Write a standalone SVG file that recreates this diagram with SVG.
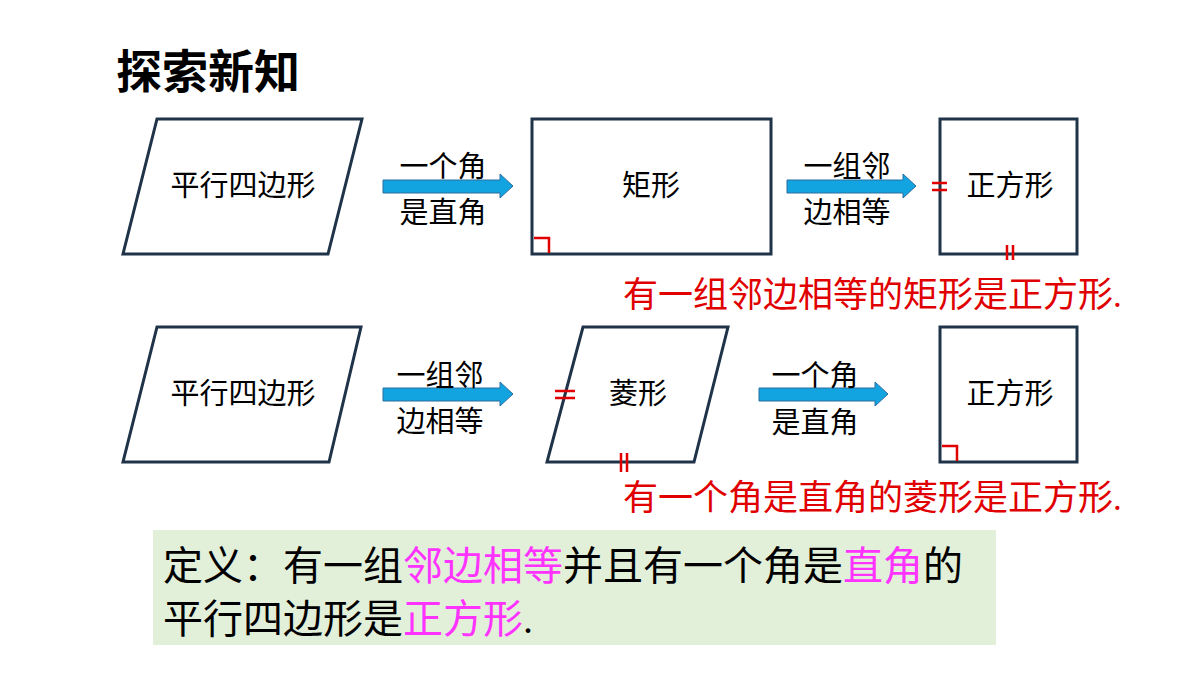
<svg xmlns="http://www.w3.org/2000/svg" width="1200" height="675" viewBox="0 0 1200 675">
<style>
.s{fill:#fff;stroke:#1f3349;stroke-width:3}
.t{font-family:"Liberation Serif","Noto Sans CJK SC",serif;font-size:29px;fill:#000;text-anchor:middle}
.r{font-family:"Liberation Serif","Noto Sans CJK SC",serif;font-size:35px;fill:#e00000}
.d{font-family:"Liberation Serif","Noto Sans CJK SC",serif;font-size:40px;fill:#000}
.m{stroke:#e00000;stroke-width:2.5;fill:none}
.a{fill:#12a4e0;stroke:#2b6c9e;stroke-width:1}
.p{fill:#ff33ff}
</style>
<rect width="1200" height="675" fill="#fff"/>
<text x="116" y="88" font-family="'Noto Sans CJK SC',sans-serif" font-weight="bold" font-size="46">探索新知</text>
<g id="n1"><polygon class="s" points="157,119 362,119 328,254 123,254"/><text class="t" x="243" y="196">平行四边形</text></g>
<g id="n2"><rect class="s" x="532" y="119" width="239" height="135"/><text class="t" x="651" y="196">矩形</text><polyline class="m" points="534,238 549,238 549,253"/></g>
<g id="n3"><rect class="s" x="940" y="119" width="137" height="135"/><text class="t" x="1010" y="196">正方形</text><path class="m" d="M932,183h15M932,190h15M1007,245v15M1013,245v15"/></g>
<g id="n4"><polygon class="s" points="157,327 361,327 329,462 123,462"/><text class="t" x="243" y="404">平行四边形</text></g>
<g id="n5"><polygon class="s" points="583,327 728,327 694,462 547,462"/><text class="t" x="638" y="404">菱形</text><path class="m" d="M555,391h20M555,398h20M621,453v19M627,453v19"/></g>
<g id="n6"><rect class="s" x="940" y="327" width="137" height="135"/><text class="t" x="1010" y="404">正方形</text><polyline class="m" points="942,446 957,446 957,461"/></g>
<g id="connectors">
<polygon class="a" points="383,180 500,180 500,174 513,186 500,198 500,193 383,193"/>
<polygon class="a" points="787,180 903,180 903,174 916,186 903,198 903,193 787,193"/>
<polygon class="a" points="383,388 500,388 500,382 513,394 500,406 500,401 383,401"/>
<polygon class="a" points="759,388 875,388 875,382 888,394 875,406 875,401 759,401"/>
<text class="t" x="443" y="177">一个角</text><text class="t" x="443" y="223">是直角</text>
<text class="t" x="847" y="177">一组邻</text><text class="t" x="847" y="223">边相等</text>
<text class="t" x="440" y="386">一组邻</text><text class="t" x="440" y="432">边相等</text>
<text class="t" x="815" y="386">一个角</text><text class="t" x="815" y="433">是直角</text>
</g>
<text class="r" x="623" y="307">有一组邻边相等的矩形是正方形.</text>
<text class="r" x="623" y="510">有一个角是直角的菱形是正方形.</text>
<rect x="153" y="530" width="843" height="115" fill="#e2efd9"/>
<text class="d" x="163" y="580">定义：有一组<tspan class="p">邻边相等</tspan>并且有一个角是<tspan class="p">直角</tspan>的</text>
<text class="d" x="163" y="633">平行四边形是<tspan class="p">正方形</tspan>.</text>
</svg>
